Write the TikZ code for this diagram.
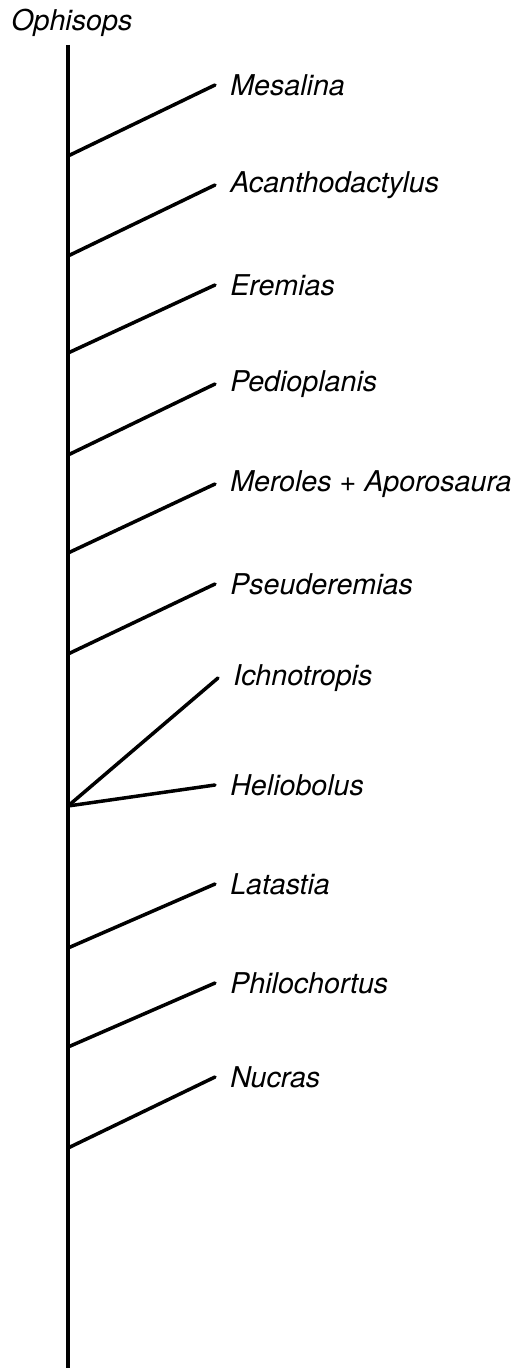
\documentclass[tikz,border=0pt]{standalone}
\usepackage{fontspec}
\setmainfont{TeX Gyre Heros}
\usetikzlibrary{positioning}

\begin{document}
\begin{tikzpicture}[x=0.02cm,y=-0.02cm,line cap=round,
  taxon/.style={right=15pt*0.567,inner sep=0pt,font=\itshape\fontsize{16.3}{19}\selectfont},
  branch/.style={line width=2pt},
  trunk/.style={line width=2.6pt,line cap=butt}]
\useasboundingbox (0,0) rectangle (520,1368);
% trunk
\coordinate (top) at (68,45);
\coordinate (bot) at (68,1368);
\draw[trunk] (top) -- (bot);
\node[inner sep=0pt,font=\itshape\fontsize{16.3}{19}\selectfont,anchor=west] (ophisops) at (11,23) {Ophisops};
% branch points on the trunk
\coordinate (b1) at (68,156);
\coordinate (b2) at (68,256);
\coordinate (b3) at (68,353);
\coordinate (b4) at (68,455);
\coordinate (b5) at (68,553);
\coordinate (b6) at (68,654);
\coordinate (b7) at (68,806);
\coordinate (b8) at (68,948);
\coordinate (b9) at (68,1047);
\coordinate (b10) at (68,1148);
% tips
\coordinate (t1) at (215,85);
\coordinate (t2) at (215,185);
\coordinate (t3) at (215,285);
\coordinate (t4) at (215,384);
\coordinate (t5) at (215,484);
\coordinate (t6) at (215,584);
\coordinate (t7) at (218,678);
\coordinate (t8) at (215,785);
\coordinate (t9) at (215,884);
\coordinate (t10) at (215,983);
\coordinate (t11) at (215,1077);
\node[taxon] (mesalina) at (t1) {Mesalina};
\node[taxon] (acantho) at (t2) {Acanthodactylus};
\node[taxon] (eremias) at (t3) {Eremias};
\node[taxon] (pedio) at (t4) {Pedioplanis};
\node[taxon] (meroles) at (t5) {Meroles + Aporosaura};
\node[taxon] (pseudo) at (t6) {Pseuderemias};
\node[taxon] (ichno) at (t7) {Ichnotropis};
\node[taxon] (helio) at (t8) {Heliobolus};
\node[taxon] (latastia) at (t9) {Latastia};
\node[taxon] (philo) at (t10) {Philochortus};
\node[taxon] (nucras) at (t11) {Nucras};
\draw[branch] (b1) -- (t1);
\draw[branch] (b2) -- (t2);
\draw[branch] (b3) -- (t3);
\draw[branch] (b4) -- (t4);
\draw[branch] (b5) -- (t5);
\draw[branch] (b6) -- (t6);
\draw[branch] (b7) -- (t7);
\draw[branch] (b7) -- (t8);
\draw[branch] (b8) -- (t9);
\draw[branch] (b9) -- (t10);
\draw[branch] (b10) -- (t11);
\end{tikzpicture}
\end{document}
